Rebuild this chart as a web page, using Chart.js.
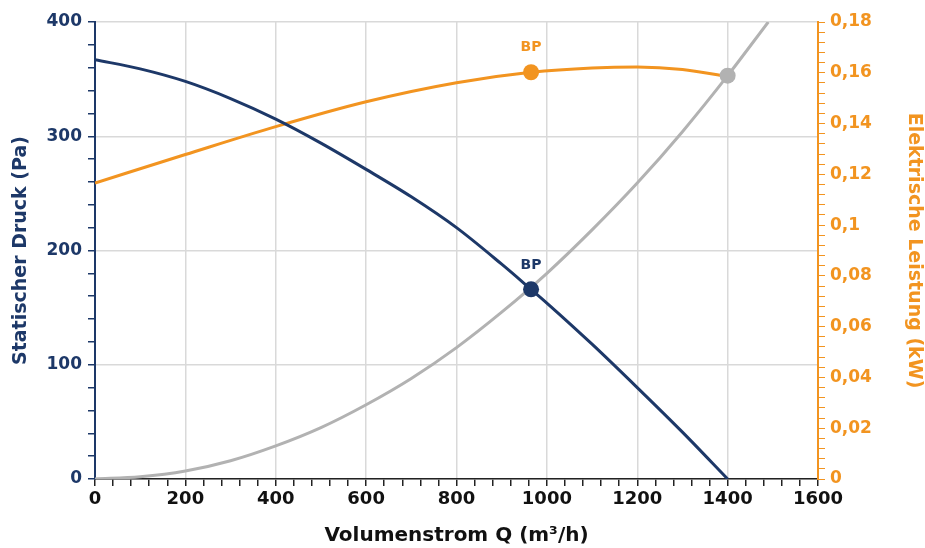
<!DOCTYPE html>
<html>
<head>
<meta charset="utf-8">
<script src="https://cdn.jsdelivr.net/npm/chart.js@4.4.1/dist/chart.umd.min.js"></script>
<style>
  body { margin: 0; background: #fff; }
  #wrap { width: 925px; height: 548px; }
</style>
</head>
<body>
<div id="wrap"><canvas id="chart1" width="925" height="548"></canvas></div>
<script>
// Volumenstrom Q (m³/h)
const flow = [0, 100, 200, 300, 400, 500, 600, 700, 800, 900, 965, 1000, 1100, 1200, 1300, 1400]
// Statischer Druck (Pa)
const pressure = [367, 359, 348, 333, 315, 294, 271, 247, 220, 188, 166, 154, 118, 80, 41, 0]
// Anlagenkennlinie (Pa)
const systemFlow = [0, 100, 200, 300, 400, 500, 600, 700, 800, 900, 1000, 1100, 1200, 1300, 1400, 1490]
const systemPressure = [0, 2, 7, 16, 29, 45, 65, 88, 115, 146, 180, 218, 259, 304, 353, 400]
// Elektrische Leistung (kW)
const powerFlow = [0, 200, 400, 600, 800, 965, 1100, 1200, 1300, 1400]
const power = [0.1166, 0.1278, 0.1388, 0.1486, 0.1561, 0.1602, 0.1619, 0.1623, 0.1613, 0.1585]
// Betriebspunkt
const bpFlow = 965
const bpPressure = 166
const bpPower = 0.1602
const endFlow = 1400
const endPressure = 353

const navy = '#1d3868'
const orange = '#f29420'
const grey = '#b2b2b2'
const font = 'DejaVu Sans'

const pts = (xs, ys) => xs.map((x, i) => ({ x: x, y: ys[i] }))

const bpLabels = {
    id: 'bpLabels',
    afterDatasetsDraw(chart) {
        const c = chart.ctx, x = chart.scales.x
        c.save()
        c.font = 'bold 14px "' + font + '"'
        c.textAlign = 'center'
        c.textBaseline = 'middle'
        c.fillStyle = orange
        c.fillText('BP', x.getPixelForValue(bpFlow), chart.scales.yP.getPixelForValue(bpPower) - 25)
        c.fillStyle = navy
        c.fillText('BP', x.getPixelForValue(bpFlow), chart.scales.y.getPixelForValue(bpPressure) - 24)
        c.restore()
    }
}

const isMajor = (v, step) => Math.abs(v / step - Math.round(v / step)) < 1e-6

new Chart(document.getElementById('chart1'), {
    type: 'line',
    data: {
        datasets: [
            { data: [{ x: bpFlow, y: bpPressure }], yAxisID: 'y', showLine: false, pointRadius: 8, pointBackgroundColor: navy, pointBorderWidth: 0, order: 0 },
            { data: [{ x: bpFlow, y: bpPower }], yAxisID: 'yP', showLine: false, pointRadius: 8, pointBackgroundColor: orange, pointBorderWidth: 0, order: 0 },
            { data: [{ x: endFlow, y: endPressure }], yAxisID: 'y', showLine: false, pointRadius: 8, pointBackgroundColor: grey, pointBorderWidth: 0, order: 0 },
            { data: pts(flow, pressure), yAxisID: 'y', borderColor: navy, borderWidth: 3, pointRadius: 0, cubicInterpolationMode: 'monotone', order: 1 },
            { data: pts(powerFlow, power), yAxisID: 'yP', borderColor: orange, borderWidth: 3, pointRadius: 0, cubicInterpolationMode: 'monotone', order: 2 },
            { data: pts(systemFlow, systemPressure), yAxisID: 'y', borderColor: grey, borderWidth: 3, pointRadius: 0, cubicInterpolationMode: 'monotone', order: 3 }
        ]
    },
    options: {
        responsive: false,
        animation: false,
        layout: { padding: { top: 22, left: 0, right: 0, bottom: 0 } },
        plugins: { legend: { display: false }, tooltip: { enabled: false } },
        scales: {
            x: {
                type: 'linear', min: 0, max: 1600,
                afterFit: s => { s.height = 69 },
                border: { color: '#222', width: 1.5 },
                grid: {
                    color: c => isMajor(c.tick.value, 200) ? '#d9d9d9' : 'rgba(0,0,0,0)',
                    tickColor: '#222', tickLength: 7, lineWidth: 1.5
                },
                ticks: {
                    stepSize: 40, autoSkip: false, maxRotation: 0, padding: 3, color: '#111',
                    font: { family: font, size: 18, weight: 'bold' },
                    callback: v => isMajor(v, 200) ? String(v) : ''
                },
                title: {
                    display: true, text: 'Volumenstrom Q (m³/h)', color: '#111',
                    font: { family: font, size: 20, weight: 'bold' }, padding: { top: 2, bottom: 0 }
                }
            },
            y: {
                position: 'left', min: 0, max: 400,
                afterFit: s => { s.width = 95 },
                border: { color: navy, width: 2 },
                grid: {
                    color: c => isMajor(c.tick.value, 100) ? '#d9d9d9' : 'rgba(0,0,0,0)',
                    tickColor: navy, tickLength: 7, lineWidth: 1.5
                },
                ticks: {
                    stepSize: 20, autoSkip: false, padding: 6, color: navy,
                    font: { family: font, size: 17, weight: 'bold' },
                    callback: v => isMajor(v, 100) ? String(v) : ''
                },
                title: {
                    display: true, text: 'Statischer Druck (Pa)', color: navy,
                    font: { family: font, size: 19, weight: 'bold' }, padding: { top: 10, bottom: 0 }
                }
            },
            yP: {
                position: 'right', min: 0, max: 0.18,
                afterFit: s => { s.width = 107 },
                border: { color: orange, width: 2 },
                grid: { drawOnChartArea: false, tickColor: orange, tickLength: 7 },
                ticks: {
                    stepSize: 0.004, autoSkip: false, padding: 5, color: orange,
                    font: { family: font, size: 17, weight: 'bold' },
                    callback: v => isMajor(v, 0.02) ? String(Math.round(v * 100) / 100).replace('.', ',') : ''
                },
                title: {
                    display: true, text: 'Elektrische Leistung (kW)', color: orange,
                    font: { family: font, size: 19, weight: 'bold' }, padding: { top: 0, bottom: 0 }
                }
            }
        }
    },
    plugins: [bpLabels]
})
</script>
</body>
</html>
